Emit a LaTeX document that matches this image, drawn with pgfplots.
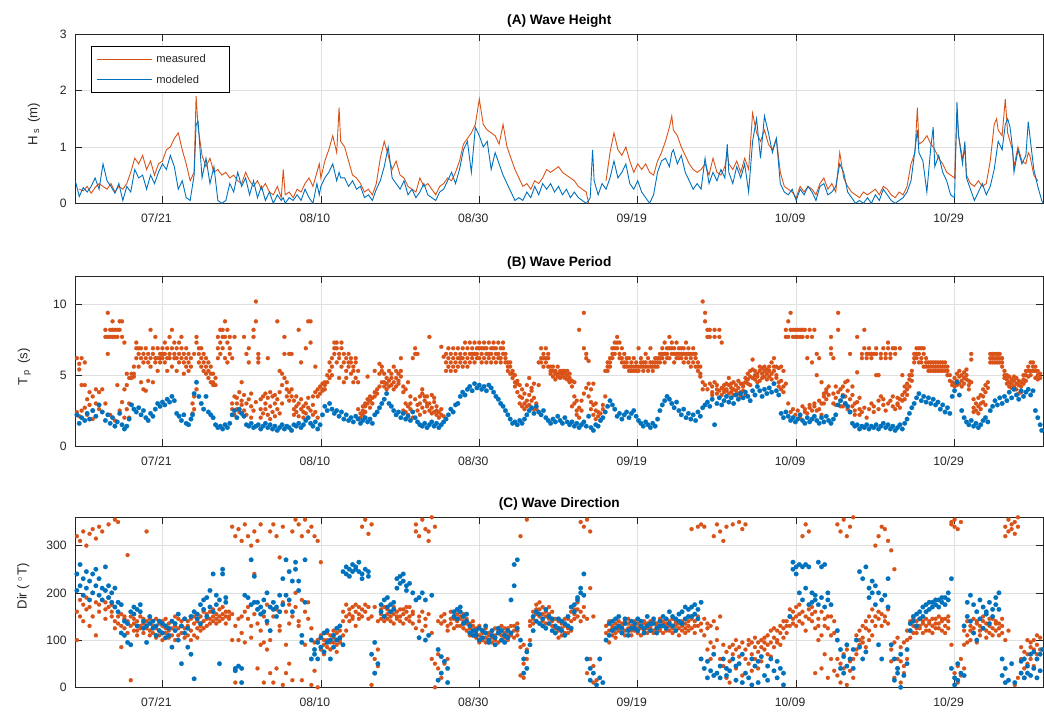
\documentclass[border=0pt]{standalone}
\usepackage{fontspec}
\setmainfont{Liberation Sans}
\usepackage{pgfplots}
\usepackage{pgfplotstable}
\pgfplotsset{compat=1.18}
\definecolor{mOrange}{RGB}{217,83,25}
\definecolor{mBlue}{RGB}{0,114,189}
\definecolor{axgray}{RGB}{38,38,38}
\definecolor{gridgray}{RGB}{224,224,224}

\pgfplotsset{
 wavestyle/.style={
  scale only axis, width=968bp, height=170bp,
  xmin=-11, xmax=111.2,
  xtick={0,20,40,60,80,100},
  xticklabels={07/21,08/10,08/30,09/19,10/09,10/29},
  xmajorgrids, ymajorgrids,
  grid style={gridgray, line width=0.6bp},
  axis line style={axgray, line width=0.6bp},
  major tick length=7bp,
  tick style={axgray, line width=0.6bp},
  tick align=inside,
  tick label style={font=\fontsize{12.2}{14}\selectfont, text=axgray},
  xticklabel style={anchor=base, inner sep=0pt, yshift=-19.5bp, xshift=-6bp},
  yticklabel style={anchor=east, inner sep=0pt, xshift=-8.5bp},
  /pgf/number format/assume math mode=true,
  title style={font=\fontsize{13.7}{16}\selectfont\bfseries, at={(0.5,1)}, anchor=base, inner sep=0pt, yshift=4bp},
  ylabel style={font=\fontsize{13.2}{15}\selectfont, text=axgray, anchor=base, inner sep=0pt},
  clip mode=individual,
 },
 omark/.style={only marks, mark=*, mark size=2.0bp, color=mOrange, mark options={solid, line width=0.2bp}},
 bmark/.style={only marks, mark=*, mark size=2.3bp, color=mBlue, mark options={solid, line width=0.2bp}},
}

\pgfplotstableread{
x m d
-11.0 nan 0.40
-10.5 0.25 0.12
-10.0 0.22 0.28
-9.5 0.30 0.20
-9.0 0.18 0.30
-8.5 0.28 0.45
-8.0 0.35 0.25
-7.5 0.30 0.70
-7.0 0.25 0.40
-6.5 0.35 0.30
-6.0 0.20 0.18
-5.5 0.30 0.35
-5.0 0.25 0.05
-4.5 0.35 0.30
-4.0 0.55 0.20
-3.5 0.80 0.60
-3.0 0.70 0.45
-2.5 0.85 0.50
-2.0 0.60 0.25
-1.5 0.75 0.50
-1.0 0.50 0.35
-0.5 0.70 0.55
0.0 0.75 0.70
0.5 0.95 0.60
1.0 1.00 0.85
1.5 1.15 0.65
2.0 1.25 0.25
2.5 0.95 0.40
3.0 0.70 0.10
3.5 0.40 0.05
4.0 0.55 0.50
4.25 1.90 1.40
4.5 1.35 1.45
5.0 0.85 0.45
5.5 0.65 0.80
6.0 0.80 0.35
6.5 0.55 0.65
7.0 0.60 0.05
7.5 0.50 0.00
8.0 0.55 0.05
8.5 0.45 0.35
9.0 0.50 0.20
9.5 0.40 0.55
10.0 0.35 0.30
10.5 0.55 0.45
11.0 0.40 0.15
11.5 0.30 0.40
12.0 0.40 0.10
12.5 0.25 0.30
13.0 0.35 0.05
13.5 0.20 0.20
14.0 0.15 0.00
14.5 0.30 0.15
15.0 0.10 0.05
15.25 0.60 0.10
15.5 0.15 0.00
16.0 0.20 0.10
16.5 0.10 0.05
17.0 0.25 0.15
17.5 0.20 0.05
18.0 0.35 0.25
18.5 0.45 0.10
19.0 0.30 0.00
19.5 0.55 0.35
19.8 0.70 0.15
20.0 0.45 0.30
20.5 0.75 0.45
21.0 0.95 0.55
21.5 1.20 0.70
22.0 0.90 0.40
22.3 1.70 0.55
22.5 1.10 0.45
23.0 1.00 0.45
23.5 0.75 0.30
24.0 0.50 0.40
24.5 0.45 0.25
25.0 0.35 0.30
25.5 0.20 0.10
26.0 0.25 0.15
26.5 0.15 0.05
27.0 0.35 0.25
27.5 0.80 0.40
28.0 1.10 0.65
28.5 0.85 1.00
29.0 0.60 0.45
29.5 0.75 0.35
30.0 0.50 0.25
30.5 0.45 0.40
31.0 0.30 0.15
31.5 0.25 0.25
32.0 0.20 0.10
32.5 0.45 0.20
33.0 0.30 0.35
33.5 0.35 0.15
34.0 0.25 0.10
34.5 0.15 0.05
35.0 0.30 0.20
35.5 0.35 0.25
36.0 0.45 0.40
36.5 0.40 0.55
37.0 0.55 0.35
37.5 0.75 0.60
38.0 1.05 0.95
38.5 1.15 1.10
39.0 1.25 0.55
39.5 1.40 1.35
40.0 1.85 1.20
40.5 1.40 1.00
41.0 1.30 1.10
41.5 1.25 0.60
42.0 1.20 0.90
42.5 1.05 0.70
43.0 1.40 0.50
43.5 1.00 0.35
44.0 0.80 0.20
44.5 0.60 0.05
45.0 0.45 0.10
45.5 0.30 0.05
46.0 0.35 0.20
46.5 0.25 0.10
47.0 0.40 0.30
47.5 0.35 0.15
48.0 0.45 0.35
48.5 0.60 0.25
49.0 0.55 0.35
49.5 0.60 0.20
50.0 0.65 0.30
50.5 0.55 0.15
51.0 0.50 0.25
51.5 0.45 0.10
52.0 0.40 0.20
52.5 0.30 0.10
53.0 0.25 0.05
53.5 0.20 0.00
53.8 0.00 0.05
54.0 nan 0.10
54.3 nan 0.95
54.5 nan 0.40
55.0 nan 0.15
55.5 nan 0.35
56.0 0.40 0.25
56.5 0.90 0.45
57.0 1.25 0.75
57.5 0.95 0.45
58.0 0.85 0.55
58.5 1.00 0.70
59.0 0.75 0.35
59.5 0.55 0.25
60.0 0.70 0.40
60.5 0.60 0.20
61.0 0.70 0.10
61.5 0.55 0.00
62.0 0.50 0.15
62.5 0.75 0.55
63.0 0.90 0.75
63.5 1.10 0.80
64.0 1.35 0.65
64.3 1.55 0.90
64.5 1.30 0.95
65.0 1.20 0.70
65.5 1.00 0.85
66.0 0.85 0.55
66.5 0.70 0.40
67.0 0.60 0.25
67.5 0.55 0.35
68.0 0.60 0.25
68.5 0.70 0.80
69.0 0.50 0.35
69.5 0.80 0.55
70.0 0.55 0.40
70.5 0.50 0.60
71.0 0.65 0.45
71.3 0.90 1.05
71.5 0.70 0.55
72.0 0.60 0.35
72.5 0.75 0.65
73.0 0.55 0.45
73.5 0.80 0.70
74.0 0.60 0.20
74.5 1.60 1.10
75.0 1.25 1.50
75.5 1.10 0.80
76.0 1.30 1.55
76.5 1.05 1.25
77.0 0.95 0.90
77.5 1.15 1.15
78.0 0.55 0.35
78.5 0.30 0.20
79.0 0.25 0.15
79.5 0.20 0.25
80.0 0.10 0.05
80.5 0.30 0.25
81.0 0.20 0.15
81.5 0.30 0.30
82.0 0.25 0.20
82.5 0.15 0.05
83.0 0.35 0.30
83.5 0.45 0.35
84.0 0.25 0.15
84.5 0.35 0.20
85.0 0.20 0.30
85.5 0.90 0.70
86.0 0.45 0.55
86.5 0.30 0.20
87.0 0.20 0.10
87.5 0.15 0.00
88.0 0.10 0.05
88.5 0.20 0.00
89.0 0.15 0.10
89.5 0.20 0.00
90.0 0.25 0.15
90.5 0.15 0.05
91.0 0.30 0.25
91.5 0.25 0.15
92.0 0.15 0.05
92.5 0.10 0.00
93.0 0.20 0.05
93.5 0.15 0.10
94.0 0.30 0.20
94.5 0.70 0.40
95.0 0.90 0.95
95.3 1.70 1.30
95.5 1.05 0.90
96.0 1.10 0.75
96.5 1.20 0.20
97.0 1.05 1.00
97.3 1.00 1.35
97.5 0.95 0.65
98.0 0.80 0.85
98.5 0.70 0.55
99.0 0.55 0.40
99.5 0.50 0.15
100.0 0.45 0.10
100.3 1.60 1.80
100.5 1.20 1.20
101.0 0.80 0.70
101.3 0.95 1.10
101.5 0.50 0.45
102.0 0.35 0.25
102.5 0.30 0.05
103.0 0.40 0.20
103.5 0.30 0.35
104.0 0.35 0.15
104.5 0.75 0.30
105.0 1.40 0.60
105.3 1.50 0.90
105.5 1.30 1.10
106.0 1.20 0.95
106.4 1.85 1.40
106.7 1.25 1.50
107.0 1.10 1.35
107.3 0.95 1.00
107.5 0.65 0.55
108.0 1.00 0.95
108.5 0.75 0.70
109.0 0.70 0.85
109.3 0.90 1.45
109.5 0.85 1.20
110.0 0.50 0.60
110.5 0.40 0.30
111.0 nan 0.05
111.2 nan 0.00
}\tabA

\pgfplotstableread{
x m1 m2 m3 d
-10.8 6.2 2.4 nan 2.2
-10.5 5.8 5.4 2.1 1.6
-10.2 6.2 4.3 2.5 2.0
-9.8 5.9 4.3 2.7 1.8
-9.5 3.3 2.2 nan 2.3
-9.2 2.9 3.8 nan 1.9
-8.8 2.5 3.5 1.9 2.5
-8.4 3.0 4.0 nan 2.1
-8.0 2.6 3.8 nan 2.9
-7.6 4.0 2.4 nan 2.4
-7.2 7.7 8.2 3.0 1.8
-6.9 9.4 7.7 6.5 2.2
-6.6 8.2 7.7 2.2 1.6
-6.3 8.2 8.8 7.7 2.0
-6.0 8.2 7.7 1.8 1.4
-5.7 7.7 8.2 4.3 1.7
-5.4 8.8 8.2 2.5 2.3
-5.1 8.8 7.7 3.1 1.5
-4.8 7.3 2.0 4.0 1.2
-4.5 4.3 2.6 5.1 1.4
-4.2 3.0 4.8 2.0 1.9
-3.9 4.8 5.1 nan 2.9
-3.6 5.1 5.6 4.9 2.6
-3.3 6.9 6.2 7.3 2.4
-3.0 6.5 6.9 5.6 2.7
-2.7 6.2 6.9 4.5 2.2
-2.4 6.5 5.9 4.0 2.5
-2.1 6.9 6.2 3.9 2.0
-1.8 5.9 6.5 4.6 1.8
-1.5 6.2 5.6 8.2 2.3
-1.2 6.5 6.9 4.5 2.1
-0.9 5.9 6.2 7.7 2.6
-0.6 6.2 6.9 5.3 3.0
-0.3 6.5 6.2 5.9 2.8
0.0 6.9 6.2 6.5 3.1
0.3 6.5 7.3 5.9 2.9
0.6 6.2 6.9 5.3 3.3
0.9 7.7 6.5 6.2 3.1
1.2 8.2 6.9 5.6 3.5
1.5 7.3 6.5 6.2 3.2
1.8 6.9 6.2 5.3 2.3
2.1 6.5 7.3 5.9 2.1
2.4 6.9 6.2 7.7 1.8
2.7 6.5 5.9 5.1 2.2
3.0 6.2 6.9 5.6 1.6
3.3 5.9 6.5 5.3 1.5
3.6 6.2 5.6 nan 1.9
3.8 2.3 3.0 nan 2.2
4.0 3.5 2.6 6.5 3.7
4.3 4.0 7.7 7.3 4.5
4.6 6.9 6.5 5.9 3.5
4.9 6.2 5.6 6.9 3.0
5.2 5.9 5.3 6.5 2.6
5.5 5.6 5.1 6.2 3.5
5.8 5.3 4.8 5.9 2.4
6.1 5.1 4.5 5.6 2.2
6.4 4.5 4.3 5.1 2.0
6.7 4.8 4.3 nan 1.5
7.0 6.9 7.7 6.2 1.3
7.3 8.2 7.3 6.5 1.4
7.6 8.2 7.7 6.9 1.2
7.9 8.8 7.7 6.2 1.5
8.2 8.2 7.3 5.9 1.3
8.5 7.7 6.5 6.9 1.6
8.8 3.0 2.6 6.2 2.2
9.1 2.2 3.5 7.7 2.5
9.4 3.4 2.6 3.0 2.0
9.7 3.8 2.4 nan 2.6
10.0 3.2 2.9 4.5 2.3
10.3 2.5 3.6 7.7 2.1
10.6 3.0 6.5 2.2 1.5
10.9 3.3 6.9 5.9 1.4
11.2 2.0 2.8 3.7 1.6
11.5 7.7 8.2 2.5 1.3
11.8 10.2 8.8 3.1 1.4
12.1 6.5 6.2 5.9 1.5
12.4 2.6 3.3 2.0 1.2
12.7 3.5 2.3 nan 1.4
13.0 3.0 2.6 3.7 1.6
13.3 6.2 2.2 3.4 1.3
13.6 3.8 2.8 1.9 1.5
13.9 3.5 2.4 nan 1.2
14.2 2.1 3.0 3.6 1.4
14.5 8.8 2.6 3.3 1.1
14.8 3.8 5.3 2.3 1.3
15.1 4.3 5.1 3.0 1.5
15.4 6.5 7.7 4.8 1.2
15.7 4.5 4.0 3.5 1.4
16.0 3.8 6.5 3.2 1.3
16.3 4.0 3.5 6.5 1.1
16.6 3.2 2.6 2.2 1.5
16.9 2.8 3.5 2.4 1.4
17.2 2.1 3.0 8.2 1.6
17.5 5.9 2.6 3.3 1.3
17.8 2.4 2.8 2.0 1.5
18.1 3.0 6.9 2.3 1.8
18.4 2.7 8.8 3.4 2.0
18.7 8.8 7.3 2.5 1.6
19.0 3.5 2.2 2.9 1.4
19.3 5.6 3.8 2.4 1.7
19.6 3.5 4.0 2.0 1.2
19.9 4.2 3.7 nan 1.5
20.2 4.4 3.9 4.0 2.2
20.5 4.3 4.0 4.5 2.8
20.8 4.5 5.0 nan 2.5
21.1 5.3 4.8 5.9 3.0
21.4 6.2 5.6 5.0 2.6
21.7 6.9 7.3 6.5 2.3
22.0 7.3 6.9 5.9 2.5
22.3 6.5 6.2 4.8 2.1
22.6 7.3 6.9 5.6 2.4
22.9 6.5 5.9 4.5 1.9
23.2 6.2 5.3 4.8 2.2
23.5 6.5 5.9 5.6 1.8
23.8 5.9 5.1 6.2 2.0
24.1 5.6 5.3 4.5 1.7
24.4 5.9 6.2 4.8 2.1
24.7 5.3 4.5 2.6 1.9
25.0 2.3 2.0 nan 1.6
25.3 2.5 2.2 2.8 1.8
25.6 2.8 3.0 2.4 2.0
25.9 3.0 3.3 4.9 1.7
26.2 3.2 3.5 2.7 1.9
26.5 3.4 3.0 nan 1.6
26.8 3.5 3.8 5.3 2.2
27.1 3.7 4.0 nan 2.4
27.4 5.8 5.1 4.2 2.7
27.7 5.6 5.3 4.5 3.0
28.0 4.5 4.2 5.1 3.3
28.3 4.0 4.8 4.4 3.7
28.6 4.6 4.2 5.3 3.0
28.9 5.1 4.8 4.3 2.8
29.2 4.5 4.0 5.6 2.5
29.5 5.3 4.8 4.2 2.2
29.8 4.6 4.4 5.1 2.4
30.1 4.9 5.3 6.2 2.0
30.4 4.2 3.8 2.5 2.3
30.7 2.4 3.0 4.0 1.9
31.0 2.2 2.8 4.5 2.1
31.3 3.0 2.6 3.5 1.8
31.6 2.0 2.4 6.2 2.4
31.9 6.5 6.9 3.3 2.0
32.2 2.9 2.5 6.5 1.7
32.5 3.5 3.0 2.2 1.5
32.8 2.7 3.7 4.0 1.4
33.1 3.2 2.4 3.5 1.6
33.4 3.5 2.8 3.0 1.3
33.7 3.0 2.5 7.7 1.5
34.0 3.6 2.7 2.3 1.7
34.3 2.4 3.1 3.4 1.4
34.6 2.8 2.2 2.5 1.6
34.9 2.0 2.4 nan 1.3
35.2 2.2 2.6 7.0 1.5
35.5 6.3 2.1 nan 1.7
35.8 5.9 6.5 5.3 1.9
36.1 6.2 5.6 6.9 2.2
36.4 5.9 6.5 5.3 2.6
36.7 6.2 5.6 6.9 2.4
37.0 6.5 5.9 5.3 2.9
37.3 6.2 6.9 5.6 3.0
37.6 6.5 5.9 6.2 3.5
37.9 6.9 6.2 5.6 3.8
38.2 6.5 5.9 7.3 3.6
38.5 6.2 6.9 5.6 4.0
38.8 6.5 7.3 5.9 4.2
39.1 6.9 6.2 6.5 3.9
39.4 7.3 6.5 5.9 4.4
39.7 6.9 6.2 6.5 4.1
40.0 7.3 6.9 6.2 4.3
40.3 6.5 5.9 6.9 4.0
40.6 7.3 6.9 6.2 4.2
40.9 6.5 6.9 5.9 3.9
41.2 7.3 6.2 6.5 4.3
41.5 6.9 6.5 5.9 4.1
41.8 7.3 6.2 6.9 3.8
42.1 6.5 5.9 6.9 3.5
42.4 7.3 6.5 6.2 3.3
42.7 6.9 6.2 5.9 3.0
43.0 7.3 6.5 6.9 2.8
43.3 6.2 5.9 6.5 2.5
43.6 5.9 5.6 5.3 2.2
43.9 5.6 5.1 5.9 1.9
44.2 5.3 4.8 5.1 1.6
44.5 4.5 5.0 4.2 1.7
44.8 4.4 3.8 4.6 1.5
45.1 3.5 3.0 4.3 1.8
45.4 2.8 3.4 4.0 1.6
45.7 3.0 2.6 3.7 1.9
46.0 4.3 3.2 2.8 2.2
46.3 3.6 4.8 2.9 2.5
46.6 3.2 3.9 4.1 2.7
46.9 2.6 3.4 4.4 2.3
47.2 3.0 2.6 nan 2.8
47.5 5.9 4.3 nan 2.4
47.8 6.2 6.9 5.9 2.2
48.1 6.5 6.2 5.6 2.5
48.4 6.9 5.9 6.2 2.0
48.7 6.2 5.6 6.5 1.8
49.0 5.6 5.1 5.3 1.6
49.3 5.3 4.9 5.6 1.9
49.6 5.1 5.3 4.7 1.7
49.9 4.9 5.1 5.6 2.1
50.2 5.3 4.8 5.1 1.8
50.5 5.1 5.3 4.9 1.6
50.8 4.8 5.1 5.3 2.0
51.1 5.0 5.3 4.7 1.7
51.4 4.8 5.1 4.5 1.5
51.7 4.6 2.8 4.2 1.7
52.0 3.5 3.0 4.5 1.4
52.3 2.5 3.2 2.2 1.6
52.6 2.7 8.2 2.0 1.3
52.9 3.2 2.5 nan 1.5
53.2 9.4 6.9 3.7 1.7
53.5 6.2 6.5 4.1 1.4
53.8 3.5 4.4 6.0 2.1
54.1 3.1 4.0 2.6 1.3
54.4 4.4 2.2 2.9 1.1
54.7 2.5 1.9 3.0 1.5
55.0 2.1 2.4 nan 1.4
55.3 1.8 2.3 nan 1.8
55.6 2.6 2.9 nan 2.0
55.9 3.5 5.3 nan 2.4
56.2 5.3 5.6 5.9 2.8
56.5 5.9 6.2 5.6 3.2
56.8 6.2 6.9 6.5 2.9
57.1 6.5 7.3 6.9 2.6
57.4 7.7 6.9 7.3 2.1
57.7 7.3 6.5 6.2 2.3
58.0 6.9 6.2 5.9 1.9
58.3 6.5 5.9 5.6 2.2
58.6 5.9 5.6 6.2 2.4
58.9 5.6 5.3 6.2 2.0
59.2 5.9 5.3 5.6 2.3
59.5 5.6 6.2 5.3 2.5
59.8 5.9 5.6 5.3 2.1
60.1 5.6 5.3 6.9 1.8
60.4 6.2 5.9 5.6 1.6
60.7 5.6 5.3 5.9 1.4
61.0 5.9 6.5 5.6 1.7
61.3 5.3 5.6 6.2 1.5
61.6 5.9 5.6 6.9 1.3
61.9 5.6 5.3 5.9 1.6
62.2 6.2 5.9 5.6 1.4
62.5 5.9 5.6 6.2 1.9
62.8 6.5 6.2 5.9 2.5
63.1 6.9 6.2 6.5 2.9
63.4 6.5 5.9 7.3 3.2
63.7 6.9 6.5 6.2 3.5
64.0 7.7 6.9 6.2 3.3
64.3 7.3 6.5 6.9 3.0
64.6 6.5 6.9 5.9 2.7
64.9 7.3 6.2 6.5 3.1
65.2 6.9 6.5 6.2 2.5
65.5 6.5 6.2 6.9 2.2
65.8 6.9 5.9 6.5 2.6
66.1 6.2 6.5 7.3 2.0
66.4 6.9 6.5 5.9 2.3
66.7 6.2 6.5 5.6 1.9
67.0 6.9 6.5 5.9 2.2
67.3 6.2 5.6 6.5 1.8
67.6 5.9 5.6 5.3 2.4
67.9 5.6 5.1 4.9 2.1
68.2 4.5 4.0 10.2 2.7
68.5 9.4 8.8 4.3 2.9
68.8 7.7 8.2 4.0 3.1
69.1 7.7 8.2 4.4 2.8
69.4 3.8 4.2 3.6 3.3
69.7 8.2 7.7 4.5 1.5
70.0 4.0 3.7 4.3 3.0
70.3 7.7 8.2 3.9 3.4
70.6 7.3 4.1 3.6 2.9
70.9 4.0 4.3 3.8 3.2
71.2 4.4 3.9 4.0 3.5
71.5 3.7 4.3 4.8 3.1
71.8 4.4 4.1 3.8 3.4
72.1 4.0 4.5 3.6 3.0
72.4 4.3 3.9 nan 3.6
72.7 4.1 4.6 3.7 3.3
73.0 4.4 3.8 3.5 3.7
73.3 3.9 4.2 4.4 3.4
73.6 4.5 4.8 3.6 3.8
73.9 5.1 4.7 4.4 3.5
74.2 5.3 4.9 4.3 3.2
74.5 6.1 5.4 4.8 3.9
74.8 5.0 4.7 5.3 3.6
75.1 5.1 4.9 4.5 4.2
75.4 5.3 5.6 4.6 3.9
75.7 5.1 4.8 5.5 3.5
76.0 5.3 4.9 5.6 4.0
76.3 5.1 4.7 5.4 3.7
76.6 5.6 5.3 4.9 4.1
76.9 5.9 5.1 4.7 3.8
77.2 6.2 5.6 5.3 4.4
77.5 5.6 4.8 5.0 3.9
77.8 4.5 4.2 5.5 3.6
78.1 4.0 5.6 4.6 2.3
78.4 4.2 3.8 5.3 2.0
78.7 7.7 8.2 4.4 2.4
79.0 8.8 7.7 3.0 2.1
79.3 8.2 9.4 2.4 1.8
79.6 8.2 7.7 2.6 2.0
79.9 8.2 7.7 2.2 1.7
80.2 7.7 8.2 2.5 1.9
80.5 8.2 7.7 2.0 2.2
80.8 7.7 8.2 2.8 1.8
81.1 8.2 2.4 2.6 1.6
81.4 7.7 6.2 2.3 2.0
81.7 8.2 2.7 2.9 1.7
82.0 7.7 5.9 2.5 1.9
82.3 8.2 2.8 3.0 2.1
82.6 6.5 5.0 2.5 1.8
82.9 6.2 2.6 3.2 1.6
83.2 4.5 3.0 2.2 2.0
83.5 3.5 3.0 3.7 1.7
83.8 3.3 3.8 4.0 2.1
84.1 3.6 4.2 nan 1.8
84.4 6.9 6.5 7.7 1.6
84.7 6.2 3.0 3.7 1.9
85.0 3.4 2.9 4.2 2.2
85.3 3.8 9.4 8.2 2.9
85.6 3.2 4.0 2.8 3.2
85.9 3.6 2.8 4.2 3.5
86.2 3.0 3.5 4.5 3.0
86.5 2.6 3.9 4.6 2.8
86.8 3.3 2.4 6.5 2.4
87.1 2.8 3.6 4.2 1.6
87.4 2.5 3.0 2.2 1.4
87.7 5.2 7.7 3.1 1.5
88.0 2.6 2.2 3.4 1.2
88.3 6.2 6.5 2.4 1.4
88.6 8.2 6.9 2.7 1.3
88.9 6.5 6.2 2.0 1.5
89.2 6.9 6.5 2.6 1.2
89.5 6.5 6.2 3.0 1.4
89.8 2.4 2.8 6.5 1.3
90.1 6.9 6.5 5.0 1.5
90.4 2.6 3.2 5.0 1.2
90.7 6.5 6.2 3.5 1.4
91.0 6.9 2.9 3.3 1.6
91.3 6.2 6.5 2.5 1.3
91.6 7.3 6.9 3.0 1.5
91.9 6.5 6.2 3.2 1.2
92.2 6.9 2.8 3.5 1.4
92.5 6.5 6.9 2.6 1.1
92.8 2.9 3.4 3.0 1.3
93.1 6.9 3.3 2.7 1.5
93.4 5.0 3.2 3.6 1.2
93.7 3.8 3.3 4.2 1.6
94.0 4.4 4.0 3.6 1.9
94.3 4.7 4.2 5.0 2.3
94.6 5.0 4.6 5.3 2.7
94.9 5.9 6.5 6.2 3.0
95.2 6.9 6.2 6.5 3.4
95.5 6.5 5.9 6.9 3.7
95.8 6.9 6.2 5.9 3.2
96.1 6.5 6.9 5.6 3.5
96.4 6.2 5.6 5.9 3.1
96.7 5.9 5.3 5.6 3.4
97.0 5.6 5.9 5.3 3.0
97.3 5.3 5.6 5.9 3.3
97.6 5.6 5.9 5.3 2.9
97.9 5.9 5.3 5.6 3.1
98.2 5.6 5.3 5.9 2.6
98.5 5.3 5.6 5.9 2.9
98.8 5.6 5.9 5.3 2.4
99.1 5.3 5.6 5.0 2.7
99.4 5.0 4.6 nan 2.3
99.7 4.5 4.3 nan 3.5
100.0 4.4 4.2 4.8 3.9
100.3 4.6 5.1 4.3 4.5
100.6 4.9 4.4 5.3 3.6
100.9 4.6 5.0 4.2 2.5
101.2 5.2 4.8 4.4 2.0
101.5 4.7 5.0 5.4 1.7
101.8 4.3 4.6 4.0 1.5
102.1 6.1 6.5 4.5 1.8
102.4 2.7 3.3 2.4 1.4
102.7 2.5 3.0 nan 1.6
103.0 2.3 2.8 3.4 1.3
103.3 3.0 3.6 2.6 1.5
103.6 3.5 4.0 3.1 1.8
103.9 3.8 4.3 2.9 2.0
104.2 4.5 4.1 nan 1.7
104.5 5.9 6.2 6.5 2.5
104.8 6.2 6.5 5.9 2.8
105.1 6.5 6.2 5.9 3.2
105.4 6.2 5.9 6.5 2.9
105.7 6.5 6.2 5.9 3.4
106.0 5.9 6.2 5.6 3.0
106.3 5.3 5.0 4.8 3.5
106.6 4.7 4.4 5.0 3.2
106.9 4.9 4.5 4.2 3.8
107.2 4.4 4.7 4.1 3.4
107.5 4.6 4.2 4.9 4.0
107.8 4.4 4.0 4.8 3.6
108.1 4.3 3.7 4.6 3.3
108.4 4.5 4.2 3.8 3.9
108.7 4.7 4.4 5.0 3.5
109.0 5.0 5.3 4.6 3.8
109.3 5.6 5.3 4.9 4.0
109.6 5.9 5.3 5.0 3.6
109.9 5.6 5.9 5.3 3.9
110.2 5.3 5.6 4.8 2.5
110.5 5.0 4.7 5.3 2.0
110.8 4.8 5.1 nan 1.5
111.0 nan nan nan 1.1
}\tabB

\pgfplotstableread{
x m1 m2 m3 d1 d2
-10.8 320 160 100 205 240
-10.4 310 185 150 260 215
-10.0 330 140 175 230 195
-9.6 300 190 165 245 210
-9.2 325 170 130 185 225
-8.8 335 200 150 240 200
-8.4 315 180 110 215 250
-8.0 340 175 160 195 230
-7.6 330 185 nan 210 185
-7.2 165 180 145 255 205
-6.8 345 170 190 190 215
-6.4 150 160 175 200 180
-6.0 355 140 125 210 170
-5.6 350 135 150 160 180
-5.2 155 130 85 115 175
-4.8 145 125 150 140 110
-4.4 280 140 115 135 95
-4.0 15 130 150 90 160
-3.6 120 145 135 155 170
-3.2 140 120 110 165 130
-2.8 150 130 125 160 175
-2.4 135 115 145 140 125
-2.0 330 125 140 95 130
-1.6 120 110 145 135 150
-1.2 140 130 115 140 125
-0.8 125 145 105 130 110
-0.4 135 110 120 120 140
0.0 100 130 140 135 115
0.4 115 125 145 105 130
0.8 135 105 120 125 110
1.2 110 140 125 140 85
1.6 130 100 150 120 135
2.0 125 145 110 155 100
2.4 140 115 130 50 130
2.8 105 125 145 145 115
3.2 130 110 140 85 125
3.6 145 120 100 70 150
4.0 110 135 150 18 160
4.4 125 140 105 155 145
4.8 150 130 120 175 135
5.2 140 160 125 165 185
5.6 130 155 145 190 150
6.0 160 145 135 205 170
6.4 150 165 140 240 160
6.8 145 135 155 175 195
7.2 165 140 150 50 185
7.6 155 170 145 250 240
8.0 160 150 135 180 190
8.4 145 160 150 nan nan
8.8 340 100 155 nan nan
9.2 320 130 10 40 35
9.6 335 145 100 45 nan
10.0 310 115 150 10 40
10.4 345 160 95 nan 195
10.8 320 145 170 190 nan
11.2 300 130 105 270 175
11.6 330 155 240 235 180
12.0 310 135 40 180 165
12.4 345 120 90 170 155
12.8 95 150 10 160 185
13.2 135 80 175 140 200
13.6 330 100 30 120 170
14.0 345 150 10 165 180
14.4 320 165 40 170 150
14.8 275 120 130 195 160
15.2 340 180 5 230 175
15.6 160 90 30 270 195
16.0 135 175 50 185 245
16.4 330 150 15 225 160
16.8 355 170 200 250 265
17.2 345 130 140 205 225
17.6 320 185 15 110 95
18.0 355 160 90 180 270
18.4 330 145 180 nan nan
18.8 340 125 5 100 60
19.2 320 95 35 80 70
19.6 310 100 0 95 60
20.0 80 110 265 105 85
20.4 100 90 70 115 75
20.8 85 115 100 95 120
21.2 110 95 80 100 60
21.6 95 105 120 85 110
22.0 115 90 75 125 100
22.4 100 120 95 105 130
22.8 140 110 160 90 245
23.2 150 120 175 255 240
23.6 165 140 155 250 235
24.0 170 150 145 260 245
24.4 160 175 130 255 250
24.8 170 155 145 265 245
25.2 340 165 150 240 230
25.6 355 175 160 250 nan
26.0 325 170 145 245 235
26.4 345 150 5 70 nan
26.8 60 30 170 95 30
27.2 80 45 140 50 nan
27.6 155 165 145 160 175
28.0 150 140 170 185 150
28.4 165 145 155 170 190
28.8 140 160 150 175 160
29.2 155 170 135 165 180
29.6 160 145 150 210 230
30.0 150 165 140 235 220
30.4 165 135 155 225 240
30.8 145 160 170 215 205
31.2 170 150 140 220 nan
31.6 155 135 160 200 nan
32.0 345 330 125 185 nan
32.4 320 140 150 190 105
32.8 355 160 120 200 nan
33.2 335 130 145 100 185
33.6 330 310 155 110 nan
34.0 360 115 60 195 nan
34.4 340 0 50 nan nan
34.8 140 40 70 80 15
35.2 150 135 20 30 65
35.6 140 155 50 55 nan
36.0 130 120 60 40 10
36.4 160 135 145 nan nan
36.8 145 125 150 150 160
37.2 155 140 130 165 145
37.6 130 150 145 160 170
38.0 140 125 155 150 135
38.4 135 145 120 140 155
38.8 125 110 135 115 130
39.2 130 120 140 120 110
39.6 115 105 125 110 120
40.0 110 130 95 125 100
40.4 120 100 115 105 120
40.8 105 125 95 115 130
41.2 115 100 110 100 95
41.6 95 120 105 120 110
42.0 110 100 125 105 90
42.4 120 115 95 125 115
42.8 100 130 110 100 120
43.2 115 105 125 95 110
43.6 125 110 100 120 105
44.0 110 130 115 185 115
44.4 130 120 105 215 260
44.8 120 135 110 270 125
45.2 320 25 85 100 nan
45.6 90 50 20 60 30
46.0 355 60 80 40 75
46.4 140 100 130 90 nan
46.8 160 145 135 150 120
47.2 175 155 165 140 160
47.6 165 150 180 155 135
48.0 155 170 140 130 145
48.4 150 135 160 165 125
48.8 170 145 155 135 150
49.2 140 160 130 120 145
49.6 125 115 145 130 115
50.0 140 120 105 145 125
50.4 110 135 125 120 140
50.8 130 115 145 135 110
51.2 145 125 115 150 130
51.6 120 140 160 170 125
52.0 155 145 165 175 160
52.4 165 150 180 190 185
52.8 350 140 160 210 200
53.2 340 170 150 240 195
53.6 355 30 145 60 nan
54.0 330 60 210 15 40
54.4 10 45 150 nan 30
54.8 nan 15 nan 5 nan
55.2 nan nan nan 20 60
55.6 nan nan nan 10 nan
56.0 130 115 nan 100 nan
56.4 120 140 95 135 110
56.8 110 130 125 120 140
57.2 135 115 105 145 125
57.6 125 140 120 130 150
58.0 115 130 135 115 125
58.4 140 120 110 135 145
58.8 125 135 145 120 110
59.2 130 110 120 140 125
59.6 120 140 130 125 135
60.0 135 115 125 145 120
60.4 125 130 110 130 140
60.8 140 120 135 115 125
61.2 115 135 125 150 130
61.6 130 125 140 120 135
62.0 120 140 115 135 145
62.4 135 125 130 125 115
62.8 125 145 120 140 130
63.2 140 115 135 130 150
63.6 130 135 120 145 125
64.0 120 140 130 135 160
64.4 145 125 115 150 130
64.8 130 135 140 120 145
65.2 125 110 135 140 155
65.6 140 130 120 160 135
66.0 115 135 125 145 170
66.4 130 120 140 165 150
66.8 125 145 335 170 150
67.2 140 115 130 155 175
67.6 130 150 340 145 165
68.0 120 135 345 60 180
68.4 145 110 340 40 nan
68.8 135 125 80 55 20
69.2 130 60 95 35 nan
69.6 140 320 85 70 25
70.0 125 345 100 30 nan
70.4 150 330 60 45 20
70.8 310 90 45 60 nan
71.2 340 75 20 25 40
71.6 55 85 10 35 nan
72.0 345 90 70 60 nan
72.4 100 40 80 15 45
72.8 350 65 85 50 nan
73.2 335 95 25 70 10
73.6 345 80 60 30 nan
74.0 90 100 50 20 nan
74.4 70 35 95 60 5
74.8 85 105 60 45 nan
75.2 95 75 40 10 55
75.6 100 55 85 65 nan
76.0 80 95 105 25 nan
76.4 110 70 90 45 15
76.8 95 120 65 60 nan
77.2 105 85 125 35 nan
77.6 120 100 95 55 20
78.0 115 130 90 40 nan
78.4 125 105 140 5 30
78.8 140 115 130 nan nan
79.2 150 130 165 nan 150
79.6 145 160 135 250 265
80.0 170 150 130 255 240
80.4 155 140 175 200 260
80.8 320 135 160 255 185
81.2 345 150 120 210 260
81.6 330 165 145 175 255
82.0 140 155 170 180 200
82.4 160 125 30 185 195
82.8 145 100 130 175 265
83.2 110 40 160 190 255
83.6 130 145 70 260 170
84.0 125 20 150 185 200
84.4 150 60 110 175 nan
84.8 35 115 140 nan nan
85.2 345 25 60 120 100
85.6 330 10 50 80 40
86.0 355 40 70 30 65
86.4 320 5 80 90 45
86.8 340 55 35 60 nan
87.2 360 20 60 40 80
87.6 110 80 70 100 nan
88.0 90 100 120 85 245
88.4 130 105 95 230 60
88.8 85 125 140 255 75
89.2 120 100 150 210 190
89.6 140 110 165 225 200
90.0 300 130 150 175 215
90.4 320 145 160 200 90
90.8 340 130 155 185 60
91.2 335 150 140 195 nan
91.6 310 165 135 170 230
92.0 290 55 80 90 nan
92.4 250 20 95 15 60
92.8 60 40 105 40 30
93.2 85 10 55 0 70
93.6 45 95 30 25 nan
94.0 100 120 60 80 50
94.4 120 105 140 135 120
94.8 130 115 145 140 150
95.2 140 125 115 155 130
95.6 125 145 130 160 145
96.0 135 115 140 150 170
96.4 145 130 120 175 160
96.8 120 140 135 165 180
97.2 130 115 145 180 170
97.6 145 135 125 175 185
98.0 125 150 135 185 170
98.4 140 120 145 180 190
98.8 130 145 115 190 175
99.2 150 125 140 185 200
99.6 345 350 90 230 40
100.0 355 340 30 20 5
100.4 335 10 45 50 15
100.8 350 60 25 30 nan
101.2 90 120 40 130 25
101.6 110 140 95 180 150
102.0 130 100 120 195 140
102.4 115 145 125 175 115
102.8 135 95 140 160 100
103.2 120 130 110 145 185
103.6 140 125 150 170 125
104.0 105 135 120 155 160
104.4 130 115 145 180 135
104.8 145 125 110 165 150
105.2 120 140 135 190 175
105.6 135 110 125 200 165
106.0 115 130 145 60 25
106.4 340 320 100 40 10
106.8 355 330 120 15 nan
107.2 345 335 nan 50 nan
107.6 325 350 5 10 nan
108.0 340 360 20 nan nan
108.4 60 30 85 30 55
108.8 40 75 20 20 60
109.2 70 100 50 45 30
109.6 85 60 95 70 25
110.0 100 80 45 40 75
110.4 90 110 70 60 20
110.8 105 80 nan 35 70
111.1 nan nan nan 80 nan
}\tabC

\begin{document}
\begin{tikzpicture}
\useasboundingbox (0,0) rectangle (1044bp,716bp);

% ---------------- (A) Wave Height
\begin{axis}[wavestyle, at={(75.3bp,512.7bp)}, anchor=south west, height=169bp,
  ymin=0, ymax=3, ytick={0,1,2,3},
  title={(A) Wave Height},
  ylabel={H\,\textsubscript{s}\, (m)},
  ylabel style={at={(rel axis cs:-0.0393,0.469)}},
  unbounded coords=jump,
  legend image code/.code={\draw[#1,line width=0.9bp] (6bp,0bp) -- (61bp,0bp); \path[draw=none,fill=none] (0bp,-10.4bp) rectangle (65.3bp,10.4bp);},
  legend style={at={(rel axis cs:0.0159,0.931)}, anchor=north west, draw=black, fill=white, line width=0.6bp,
    inner xsep=0pt, inner ysep=2.3bp, column sep=0pt, row sep=0pt, nodes={inner sep=0pt},
    font=\fontsize{11.2}{13}\selectfont, text=axgray},
  legend cell align=left,
]
\addplot[mOrange, line width=0.9bp] table[x=x, y=m] {\tabA};
\addlegendentry{\raisebox{0pt}[8.2bp][8.2bp]{\makebox[73bp][l]{measured}}}
\addplot[mBlue, line width=0.9bp] table[x=x, y=d] {\tabA};
\addlegendentry{\raisebox{0pt}[8.2bp][8.2bp]{\makebox[73bp][l]{modeled}}}
\end{axis}

% ---------------- (B) Wave Period
\begin{axis}[wavestyle, at={(75.3bp,270bp)}, anchor=south west, height=170bp,
  ymin=0, ymax=12, ytick={0,5,10},
  title={(B) Wave Period},
  ylabel={T\,\textsubscript{p}\, (s)},
  ylabel style={at={(rel axis cs:-0.0496,0.466)}},
]
\addplot[omark] table[x=x, y=m1] {\tabB};
\addplot[omark] table[x=x, y=m2] {\tabB};
\addplot[omark] table[x=x, y=m3] {\tabB};
\addplot[bmark] table[x=x, y=d] {\tabB};
\end{axis}

% ---------------- (C) Wave Direction
\begin{axis}[wavestyle, at={(75.3bp,28.7bp)}, anchor=south west, height=170bp,
  ymin=0, ymax=360, ytick={0,100,200,300},
  title={(C) Wave Direction},
  ylabel={Dir (\;\textsuperscript{$\circ$}T)},
  ylabel style={at={(rel axis cs:-0.0502,0.593)}},
]
\addplot[omark] table[x=x, y=m1] {\tabC};
\addplot[omark] table[x=x, y=m2] {\tabC};
\addplot[omark] table[x=x, y=m3] {\tabC};
\addplot[bmark] table[x=x, y=d1] {\tabC};
\addplot[bmark] table[x=x, y=d2] {\tabC};
\end{axis}
\end{tikzpicture}
\end{document}
